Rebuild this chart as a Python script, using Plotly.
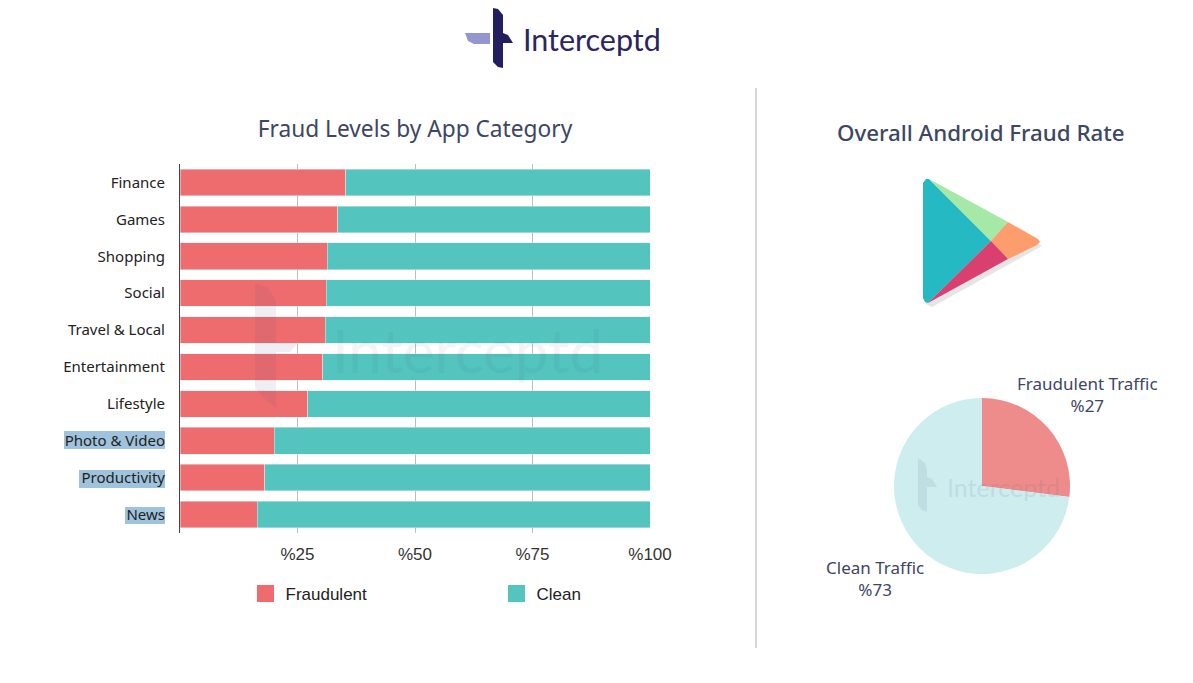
import plotly.graph_objects as go

W, H = 1193, 683

categories = ["Finance", "Games", "Shopping", "Social", "Travel & Local",
              "Entertainment", "Lifestyle", "Photo & Video", "Productivity", "News"]
fraudulent = [35.3, 33.6, 31.3, 31.1, 30.9, 30.4, 27.2, 20.0, 18.0, 16.4]
clean = [64.7, 66.4, 68.7, 68.9, 69.1, 69.6, 72.8, 80.0, 82.0, 83.6]
tick_values = [25, 50, 75, 100]
tick_labels = ["%25", "%50", "%75", "%100"]
pie_labels = ["Fraudulent Traffic", "Clean Traffic"]
pie_values = [27, 73]

RED, TEAL = "#ee6c6e", "#53c4be"
INK = "#3d4663"
LABEL_FONT = "Noto Sans"


def px(x):
    return x / W


def py(y):
    return 1 - y / H


def path(points, close=True):
    d = "M " + " L ".join(f"{px(x):.5f},{py(y):.5f}" for x, y in points)
    return d + (" Z" if close else "")


def poly(points, fill, opacity=1.0, layer="above"):
    return dict(type="path", xref="paper", yref="paper", path=path(points),
                fillcolor=fill, line=dict(width=0), opacity=opacity, layer=layer)


def rect(x0, y0, x1, y1, fill, layer="below", opacity=1.0):
    return dict(type="rect", xref="paper", yref="paper", x0=px(x0), x1=px(x1),
                y0=py(y1), y1=py(y0), fillcolor=fill, line=dict(width=0),
                layer=layer, opacity=opacity)


fig = go.Figure()
fig.add_bar(y=categories, x=fraudulent, orientation="h", marker_color=RED, showlegend=False,
            xaxis="x", yaxis="y", name="Fraudulent")
fig.add_bar(y=categories, x=clean, orientation="h", marker_color=TEAL, showlegend=False,
            xaxis="x", yaxis="y", name="Clean")
# legend-only entries: a thick outline gives the larger swatches of the reference
for nm, col in (("Fraudulent", RED), ("Clean", TEAL)):
    fig.add_bar(y=[None], x=[None], orientation="h", name=nm,
                marker=dict(color=col, line=dict(color=col, width=6)))

fig.add_pie(labels=pie_labels, values=pie_values, sort=False, direction="clockwise", rotation=0,
            marker=dict(colors=["#ee8c8c", "#cdedee"], line=dict(width=0)),
            textinfo="none", hoverinfo="label+percent", showlegend=False,
            domain=dict(x=[px(894), px(1070)], y=[py(574), py(398)]))

shapes = [
    # highlighted tick labels
    rect(64, 431, 165, 449, "#9fc3dc"),
    rect(79, 470, 165, 488, "#9fc3dc"),
    rect(125, 507, 165, 524, "#9fc3dc"),
    # divider
    dict(type="line", xref="paper", yref="paper", x0=px(756), x1=px(756), y0=py(88), y1=py(648),
         line=dict(color="#c9c9c9", width=1.5)),
    # logo
    poly([(465, 33), (490, 33), (490, 44), (474, 44), (468, 41)], "#9396cf"),
    poly([(493, 8), (498, 9), (503, 15), (503, 33), (508, 35), (513, 43), (503, 43), (503, 68),
          (498, 67), (493, 62)], "#231f5f"),
    # chart watermark
    poly([(255, 283), (268, 288), (276, 300), (276, 408), (266, 400), (255, 388)], "#4a4a78", 0.09),
    poly([(276, 343), (298, 343), (290, 352), (276, 352)], "#4a4a78", 0.09),
    # pie watermark
    poly([(918, 458), (925, 463), (927, 470), (927, 512), (922, 510), (918, 505)], "#4a6a88", 0.11),
    poly([(927, 477), (932, 479), (937, 487), (927, 487)], "#4a6a88", 0.11),
    # store icon: shadow, then facets
    poly([(926, 184), (932, 183), (1042, 246), (932, 307), (926, 304)], "#888888", 0.22),
    poly([(923, 183), (926, 179), (929, 179), (991, 241), (928, 303), (925, 302), (923, 298)], "#25bac3"),
    poly([(929, 179), (1008, 222), (991, 241)], "#a6e8a6"),
    poly([(1008, 222), (1038, 239), (1040, 242), (1037, 245), (1008, 259), (991, 241)], "#fd9c6d"),
    poly([(991, 241), (1008, 259), (928, 303)], "#d9406f"),
]

annotations = [
    dict(text="Overall Android Fraud Rate", x=px(981), y=py(132), xref="paper", yref="paper",
         showarrow=False, xanchor="center", yanchor="middle",
         font=dict(family=LABEL_FONT, size=22.3, color=INK, weight=500)),
    dict(text="Interceptd", x=px(521), y=py(39), xref="paper", yref="paper", showarrow=False,
         xanchor="left", yanchor="middle", font=dict(family="Lato", size=30.5, color="#2a2660")),
    dict(text="Interceptd", x=px(330), y=py(350), xref="paper", yref="paper", showarrow=False,
         xanchor="left", yanchor="middle", opacity=0.05,
         font=dict(family="Lato", size=60, color="#3a3a70")),
    dict(text="Interceptd", x=px(945), y=py(487), xref="paper", yref="paper", showarrow=False,
         xanchor="left", yanchor="middle", opacity=0.1,
         font=dict(family="Lato", size=25, color="#3a5a80")),
    dict(text=f"{pie_labels[0]}<br>%{pie_values[0]}", x=px(1087), y=py(394), xref="paper", yref="paper",
         showarrow=False, xanchor="center", yanchor="middle",
         font=dict(family=LABEL_FONT, size=17, color=INK)),
    dict(text=f"{pie_labels[1]}<br>%{pie_values[1]}", x=px(875), y=py(578), xref="paper", yref="paper",
         showarrow=False, xanchor="center", yanchor="middle",
         font=dict(family=LABEL_FONT, size=17, color=INK)),
]

fig.update_layout(
    width=W, height=H, margin=dict(l=0, r=0, t=0, b=0, pad=0, autoexpand=False),
    paper_bgcolor="white", plot_bgcolor="white",
    barmode="stack", bargap=0.28,
    title=dict(text="Fraud Levels by App Category", x=px(415), y=py(129), xref="paper", yref="paper",
               xanchor="center", yanchor="middle",
               font=dict(family=LABEL_FONT, size=22.7, color=INK)),
    xaxis=dict(domain=[px(180), px(650)], range=[0, 100], tickmode="array", tickvals=tick_values,
               ticktext=tick_labels, showgrid=True, gridcolor="#bdbdbd", gridwidth=1, zeroline=False,
               showline=False, ticks="outside", ticklen=6, tickcolor="rgba(0,0,0,0)",
               tickfont=dict(family="Liberation Sans", size=17, color="#333333")),
    yaxis=dict(domain=[py(533), py(164)], autorange="reversed", showgrid=False, zeroline=False,
               showline=True, linecolor="#444444", linewidth=1, ticks="outside", ticklen=11,
               tickcolor="rgba(0,0,0,0)",
               tickfont=dict(family=LABEL_FONT, size=15, color="#222222")),
    legend=dict(orientation="h", x=px(245.5), y=py(594), yanchor="middle", xanchor="left",
                entrywidth=206, entrywidthmode="pixels", traceorder="normal",
                font=dict(family="Liberation Sans", size=17, color="#222222"),
                bgcolor="rgba(0,0,0,0)"),
    shapes=shapes, annotations=annotations,
)

fig.write_html("out.html", config=dict(displayModeBar=False),
               post_script="document.body.style.margin='0';")
